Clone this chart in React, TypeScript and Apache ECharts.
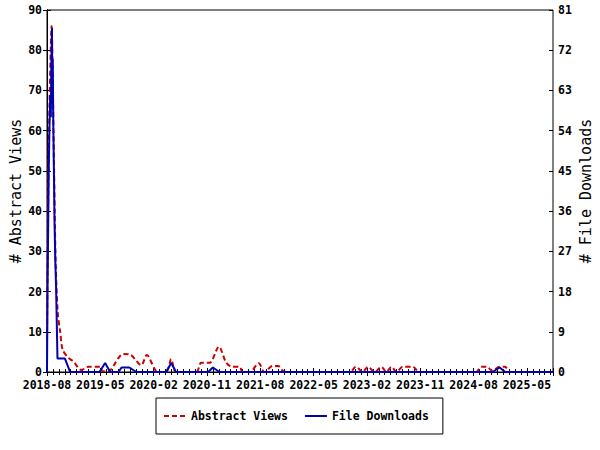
import React, { useEffect, useRef } from "react";
import * as echarts from "echarts";

const tickLabels = ["2018-08", "2019-05", "2020-02", "2020-11", "2021-08", "2022-05", "2023-02", "2023-11", "2024-08", "2025-05"];
const leftTicks = [0, 10, 20, 30, 40, 50, 60, 70, 80, 90];
const rightTicks = [0, 9, 18, 27, 36, 45, 54, 63, 72, 81];

const viewDates = [
  "2018-08-01", "2018-08-03", "2018-08-06", "2018-08-09", "2018-08-14", "2018-08-20", "2018-08-25", "2018-08-29",
  "2018-09-02", "2018-09-06", "2018-09-10", "2018-09-15", "2018-09-25", "2018-10-08", "2018-10-21", "2018-11-20",
  "2018-12-15", "2019-01-26", "2019-03-01", "2019-04-30", "2019-05-12", "2019-06-12", "2019-08-03", "2019-08-28",
  "2019-10-03", "2019-11-28", "2019-12-27", "2020-02-21", "2020-04-04", "2020-04-30", "2020-05-25", "2020-09-07",
  "2020-10-02", "2020-11-14", "2021-01-01", "2021-02-08", "2021-03-10", "2021-04-16", "2021-05-01", "2021-06-07",
  "2021-07-24", "2021-08-22", "2021-10-04", "2021-11-01", "2021-12-04", "2022-11-04", "2022-12-06", "2023-01-09",
  "2023-02-06", "2023-03-10", "2023-04-14", "2023-05-10", "2023-06-05", "2023-07-01", "2023-08-02", "2023-09-23",
  "2023-10-28", "2024-08-13", "2024-09-10", "2024-10-07", "2024-11-06", "2024-12-13", "2025-01-10", "2025-02-04",
  "2025-09-13",
];
const viewValues = [
  8, 23, 37, 51, 66, 79, 86, 79,
  66, 53, 40, 27, 15, 10, 5.5, 3.5,
  2.6, 0.5, 1.3, 1.3, 0.2, 0.2, 3.5, 4.5,
  4.3, 1.7, 4.2, 0, 0, 3.2, 0, 0,
  2.3, 2.3, 6.3, 2.3, 1.3, 1.3, 0, 0,
  2.2, 0, 1.5, 1.5, 0, 0, 1.3, 0,
  1.3, 0, 1.3, 0, 1.3, 0, 1.3, 1.3,
  0, 0, 1.3, 1.3, 0.3, 1.3, 1.3, 0,
  0,
];

const downloadDates = [
  "2018-08-01", "2018-08-02", "2018-08-04", "2018-08-07", "2018-08-10", "2018-08-14", "2018-08-18", "2018-08-21",
  "2018-08-24", "2018-08-27", "2018-08-29", "2018-08-31", "2018-09-03", "2018-09-06", "2018-09-09", "2018-09-13",
  "2018-09-17", "2018-09-24", "2018-11-02", "2018-11-28", "2019-04-27", "2019-05-26", "2019-06-21", "2019-08-03",
  "2019-08-19", "2019-09-28", "2019-11-03", "2020-04-04", "2020-04-30", "2020-05-25", "2020-11-07", "2020-12-01",
  "2021-01-04", "2024-11-07", "2024-12-13", "2025-01-12", "2025-09-13",
];
const downloadValues = [
  0, 6, 19, 32, 45, 55, 62, 57,
  70, 77, 60, 70, 55, 45, 34, 25,
  19, 3, 3, 0, 0, 2, 0, 0,
  1, 1, 0, 0, 2, 0, 0, 1,
  0, 0, 1, 0, 0,
];

// months since 2018-08-01
function toM(s: string): number {
  const [y, mo, d] = s.split("-").map(Number);
  const dim = new Date(y, mo, 0).getDate();
  return (y - 2018) * 12 + (mo - 8) + (d - 1) / dim;
}

const FONT = "DejaVu Sans Mono";

export default function App() {
  const ref = useRef<HTMLDivElement>(null);
  useEffect(() => {
    if (!ref.current) return;
    const chart = echarts.init(ref.current, undefined, { renderer: "svg" });
    const viewData = viewDates.map((d, i) => [toM(d), viewValues[i]]);
    const dlData = downloadDates.map((d, i) => [toM(d), downloadValues[i]]);
    const xMax = toM(viewDates[viewDates.length - 1]);
    const labelStyle = { color: "#000", fontFamily: FONT, fontWeight: "bold" as const, fontSize: 11.5, lineHeight: 11 };
    const lineStyle = { color: "#000", width: 1 };
    const xBase = {
      type: "value" as const,
      min: 0,
      max: xMax,
      interval: 9,
      position: "bottom" as const,
      splitLine: { show: false },
    };
    const yBase = (pos: "left" | "right", max: number, interval: number) => ({
      type: "value" as const,
      position: pos,
      min: 0,
      max,
      interval,
      splitLine: { show: false },
    });
    chart.setOption({
      animation: false,
      backgroundColor: "#fff",
      grid: {
        left: 47, right: 47, top: 10, bottom: 78,
        show: true, borderColor: "#000", borderWidth: 1,
        containLabel: false, outerBoundsMode: "none",
      },
      legend: {
        left: 156,
        top: 398,
        padding: [12, 14, 12, 7],
        borderColor: "#000",
        borderWidth: 1,
        itemWidth: 22,
        itemHeight: 14,
        itemGap: 16,
        itemStyle: { opacity: 0 },
        textStyle: { color: "#000", fontFamily: FONT, fontWeight: "bold", fontSize: 11.5 },
        data: ["Abstract Views", "File Downloads"],
      },
      xAxis: [
        {
          ...xBase,
          axisLine: { onZero: false, lineStyle },
          axisTick: { show: true, length: 4, lineStyle },
          minorTick: { show: true, splitNumber: 9, length: 3, lineStyle },
          axisLabel: {
            ...labelStyle,
            margin: 7,
            showMaxLabel: false,
            formatter: (v: number) => {
              const i = Math.round(v / 9);
              return Math.abs(v - i * 9) < 1e-6 && tickLabels[i] ? tickLabels[i] : "";
            },
          },
        },
        {
          ...xBase,
          axisLine: { show: false, onZero: false },
          axisTick: { show: true, inside: true, length: 4, lineStyle },
          minorTick: { show: true, splitNumber: 9, length: 3, lineStyle },
          axisLabel: { show: false },
        },
      ],
      yAxis: [
        {
          ...yBase("left", leftTicks[leftTicks.length - 1], leftTicks[1] - leftTicks[0]),
          name: "# Abstract Views",
          nameLocation: "middle",
          nameRotate: 90,
          nameGap: 24,
          nameMoveOverlap: false,
          nameTextStyle: { color: "#000", fontFamily: FONT, fontSize: 15 },
          axisLine: { show: true, lineStyle },
          axisTick: { show: true, length: 4, lineStyle },
          axisLabel: { ...labelStyle, margin: 5 },
        },
        {
          ...yBase("right", rightTicks[rightTicks.length - 1], rightTicks[1] - rightTicks[0]),
          name: "# File Downloads",
          nameLocation: "middle",
          nameRotate: 90,
          nameGap: 25.5,
          nameMoveOverlap: false,
          nameTextStyle: { color: "#000", fontFamily: FONT, fontSize: 15 },
          axisLine: { show: true, lineStyle },
          axisTick: { show: true, length: 4, lineStyle },
          axisLabel: { ...labelStyle, margin: 5 },
        },
        {
          ...yBase("left", leftTicks[leftTicks.length - 1], leftTicks[1] - leftTicks[0]),
          axisLine: { show: false },
          axisTick: { show: true, inside: true, length: 4, lineStyle },
          axisLabel: { show: false },
        },
        {
          ...yBase("right", rightTicks[rightTicks.length - 1], rightTicks[1] - rightTicks[0]),
          axisLine: { show: false },
          axisTick: { show: true, inside: true, length: 4, lineStyle },
          axisLabel: { show: false },
        },
      ],
      series: [
        {
          name: "Abstract Views",
          type: "line",
          xAxisIndex: 0,
          yAxisIndex: 0,
          data: viewData,
          showSymbol: false,
          symbol: "none",
          smooth: 0.3,
          color: "#cc0000",
          lineStyle: { color: "#cc0000", width: 2, type: [5, 3] },
        },
        {
          name: "File Downloads",
          type: "line",
          xAxisIndex: 0,
          yAxisIndex: 1,
          data: dlData,
          showSymbol: false,
          symbol: "none",
          color: "#0000b4",
          lineStyle: { color: "#0000b4", width: 2 },
        },
      ],
    });
    return () => chart.dispose();
  }, []);
  return <div ref={ref} style={{ position: "fixed", left: 0, top: 0, width: 600, height: 450 }} />;
}
